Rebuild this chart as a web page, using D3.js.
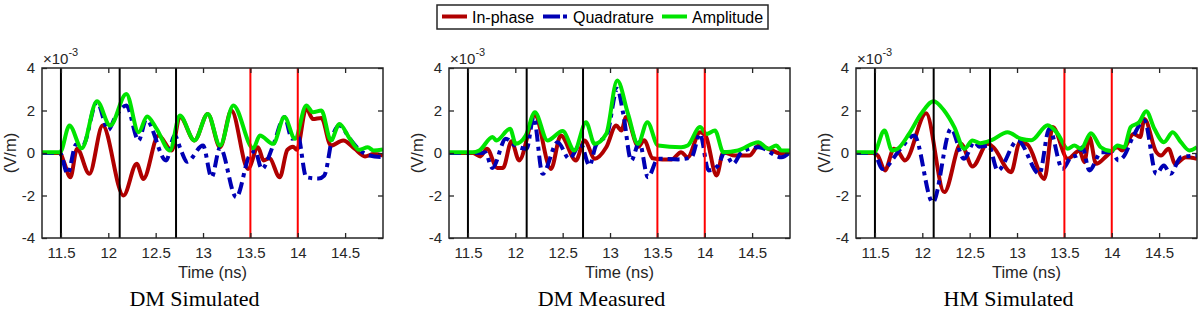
<!DOCTYPE html>
<html><head><meta charset="utf-8">
<script src="https://cdn.jsdelivr.net/npm/d3@7"></script>
<style>
html,body{margin:0;padding:0;background:#fff;}
svg{display:block;}
</style></head>
<body>
<svg id="chart" width="1200" height="314"></svg>
<script>
// ---------------- DATA ----------------
const panelTitles = ["DM Simulated", "DM Measured", "HM Simulated"];
const seriesNames = ["In-phase", "Quadrature", "Amplitude"];
const xTicks = [11.5, 12, 12.5, 13, 13.5, 14, 14.5];
const xTickLabels = ["11.5", "12", "12.5", "13", "13.5", "14", "14.5"];
const yTicks = [-4, -2, 0, 2, 4];
const yTickLabels = ["-4", "-2", "0", "2", "4"];
const xDomain = [11.3, 14.9];
const yDomain = [-4, 4];
const blackMarkers = [11.5, 12.12, 12.715];
const redMarkers = [13.5, 14.0];

// DM Simulated (values in 1e-3 V/m)
const dmSimInPhaseT = [11.30,11.49,11.53,11.60,11.67,11.80,11.94,12.16,12.30,12.37,12.53,12.67,12.755,12.91,13.05,13.18,13.30,13.475,13.58,13.64,13.70,13.81,13.89,13.95,13.99,14.09,14.16,14.25,14.35,14.48,14.60,14.71,14.80,14.90];
const dmSimInPhaseV = [0,0,-0.4,-1.14,0.2,-0.98,1.29,-2.0,-0.51,-1.22,0.82,0.12,1.72,0.59,1.84,0.27,2.0,-0.75,0.27,-0.35,-0.25,-1.14,0.15,0.3,0.15,2.1,1.6,1.65,0.35,0.59,0.2,-0.16,-0.05,-0.12];
const dmSimQuadT = [11.30,11.49,11.57,11.66,11.73,11.88,12.00,12.07,12.19,12.32,12.40,12.61,12.70,12.77,12.83,13.00,13.09,13.18,13.35,13.49,13.55,13.62,13.74,13.86,13.94,14.00,14.09,14.22,14.28,14.37,14.44,14.55,14.65,14.76,14.90];
const dmSimQuadV = [0,0,-0.98,0.4,0.35,2.4,1.09,1.65,2.24,0.59,1.56,-0.35,0.82,0.1,-0.41,0.35,-1.14,0.25,-2.08,-0.12,0.1,-0.75,0.35,1.69,0.67,0.82,-1.14,-1.2,-1.06,0.82,1.29,0.67,0.15,-0.12,-0.2];
const dmSimAmpT = [11.30,11.49,11.59,11.72,11.88,12.02,12.19,12.32,12.41,12.51,12.65,12.755,12.91,13.05,13.18,13.32,13.53,13.60,13.74,13.86,13.97,14.09,14.16,14.25,14.35,14.44,14.55,14.65,14.74,14.80,14.90];
const dmSimAmpV = [0.03,0.03,1.29,0.22,2.44,1.29,2.78,0.98,1.72,1.14,0.12,1.76,0.59,1.84,0.35,2.24,0.22,0.82,0.43,1.69,0.67,2.24,1.92,2.0,0.59,1.37,0.67,0.15,0.27,0.12,0.17];

// DM Measured
const dmMeasInPhaseT = [11.30,11.55,11.63,11.70,11.81,11.87,11.96,12.04,12.207,12.376,12.48,12.64,12.73,12.84,12.96,13.065,13.12,13.17,13.30,13.36,13.45,13.55,13.65,13.75,13.82,13.95,14.01,14.125,14.196,14.32,14.47,14.57,14.71,14.81,14.90];
const dmMeasInPhaseV = [0,0,-0.16,0.2,-0.7,-0.7,0.55,-0.35,1.76,-0.75,0.82,-0.35,0.59,-0.27,0.27,1.29,1.06,1.69,0.3,0.6,-0.25,-0.3,-0.3,0.04,-0.2,0.98,0.8,-1.06,0.04,-0.12,-0.12,0.35,0.12,-0.04,0.04];
const dmMeasQuadT = [11.30,11.65,11.68,11.758,11.90,12.00,12.12,12.193,12.288,12.447,12.57,12.69,12.783,12.85,12.97,13.076,13.14,13.224,13.31,13.40,13.507,13.72,13.86,13.95,14.04,14.14,14.21,14.30,14.39,14.57,14.81,14.90];
const dmMeasQuadV = [0,0,0.04,-0.7,0.67,0.35,0.2,1.69,-0.98,0.51,-0.27,0.43,-0.59,0.35,0.9,3.02,1.84,-0.35,0.51,-1.14,-0.27,-0.3,-0.2,0.9,-0.82,-0.59,0.04,-0.51,0.04,0.27,-0.2,0.04];
const dmMeasAmpT = [11.30,11.55,11.62,11.76,11.80,11.945,12.005,12.11,12.207,12.34,12.50,12.624,12.747,12.836,12.96,13.076,13.19,13.295,13.394,13.507,13.75,13.82,13.95,14.02,14.108,14.196,14.35,14.567,14.67,14.755,14.81,14.90];
const dmMeasAmpV = [0.03,0.03,0.12,0.75,0.59,1.14,0.43,0.82,1.92,0.59,1.03,0.12,1.45,0.43,0.9,3.41,1.84,0.43,1.45,0.35,0.27,0.35,1.22,0.9,1.06,0.04,0.12,0.51,0.2,0.35,0.12,0.12];

// HM Simulated
const hmSimInPhaseT = [11.30,11.49,11.53,11.606,11.70,11.75,11.817,12.04,12.232,12.408,12.53,12.69,12.75,12.937,13.03,13.11,13.289,13.377,13.535,13.66,13.71,13.764,13.835,13.95,14.06,14.11,14.23,14.30,14.345,14.47,14.52,14.60,14.67,14.78,14.90];
const hmSimInPhaseV = [0,0,-0.12,-0.82,0.2,0.04,-0.35,1.87,-1.84,0.43,-0.63,0.43,0.27,-0.9,0.51,0.4,-1.22,1.22,-0.27,0.12,-0.43,0.75,-0.51,-0.12,0.27,0.12,0.9,0.75,1.6,0.04,-0.12,0.2,-0.51,-0.2,-0.27];
const hmSimQuadT = [11.30,11.49,11.58,11.77,11.915,12.11,12.303,12.44,12.55,12.60,12.70,12.796,13.007,13.236,13.34,13.48,13.57,13.64,13.69,13.764,13.89,14.00,14.07,14.12,14.23,14.345,14.47,14.55,14.62,14.73,14.90];
const hmSimQuadV = [0,0,-0.75,0.2,0.82,-2.32,1.14,-0.27,0.51,0.3,0.35,-0.82,0.59,-0.98,1.14,-0.75,-0.2,-0.1,0.27,-0.82,0.04,0.04,-0.35,-0.2,0.82,1.53,-0.98,-0.59,-0.98,-0.2,-0.12];
const hmSimAmpT = [11.30,11.49,11.60,11.68,11.74,11.86,11.986,12.12,12.23,12.338,12.444,12.53,12.61,12.725,12.90,13.04,13.15,13.324,13.43,13.535,13.605,13.675,13.78,13.885,13.993,14.06,14.13,14.20,14.29,14.363,14.45,14.55,14.644,14.73,14.82,14.90];
const hmSimAmpV = [0.03,0.03,1.06,0.12,0.2,0.9,1.84,2.44,2.0,1.22,0.2,0.59,0.46,0.59,0.98,0.67,0.6,1.31,0.9,0.2,0.35,0.2,0.93,0.27,0.09,0.35,0.27,1.22,1.45,1.97,1.14,0.51,0.98,0.51,0.12,0.27];

// ---------------- BUILD ----------------
const panels = [
  {title: panelTitles[0], series: [[dmSimInPhaseT, dmSimInPhaseV],[dmSimQuadT, dmSimQuadV],[dmSimAmpT, dmSimAmpV]]},
  {title: panelTitles[1], series: [[dmMeasInPhaseT, dmMeasInPhaseV],[dmMeasQuadT, dmMeasQuadV],[dmMeasAmpT, dmMeasAmpV]]},
  {title: panelTitles[2], series: [[hmSimInPhaseT, hmSimInPhaseV],[hmSimQuadT, hmSimQuadV],[hmSimAmpT, hmSimAmpV]]}
];
const colors = ["#b00000", "#0000b4", "#00e400"];
const dashes = [null, "12,5,4,5", null];
const axisColor = "#262626";
const sansFont = "'Liberation Sans', Arial, Helvetica, sans-serif";
const serifFont = "'Liberation Serif', 'Times New Roman', serif";

const svg = d3.select("#chart");
const lefts = [42, 449, 856];
const plotW = 341, plotTop = 68, plotBottom = 238;

panels.forEach((p, i) => {
  const L = lefts[i];
  const x = d3.scaleLinear().domain(xDomain).range([L, L + plotW]);
  const y = d3.scaleLinear().domain(yDomain).range([plotBottom, plotTop]);
  const g = svg.append("g");
  const clipId = "clip" + i;
  svg.append("clipPath").attr("id", clipId).append("rect")
    .attr("x", L).attr("y", plotTop).attr("width", plotW).attr("height", plotBottom - plotTop);

  const line = d3.line().x(d => x(d[0])).y(d => y(d[1])).curve(d3.curveMonotoneX);
  const cg = g.append("g").attr("clip-path", `url(#${clipId})`);
  p.series.forEach((s, k) => {
    const pts = s[0].map((t, j) => [t, s[1][j]]);
    const path = cg.append("path").datum(pts).attr("d", line)
      .attr("fill", "none").attr("stroke", colors[k]).attr("stroke-width", 4)
      .attr("stroke-linejoin", "round");
    if (dashes[k]) path.attr("stroke-dasharray", dashes[k]);
  });
  // marker lines
  blackMarkers.forEach(t => cg.append("line").attr("x1", x(t)).attr("x2", x(t)).attr("y1", plotTop).attr("y2", plotBottom)
    .attr("stroke", "#000").attr("stroke-width", 2));
  redMarkers.forEach(t => cg.append("line").attr("x1", x(t)).attr("x2", x(t)).attr("y1", plotTop).attr("y2", plotBottom)
    .attr("stroke", "#ff0000").attr("stroke-width", 2));

  // axes
  const xb = d3.axisBottom(x).tickValues(xTicks).tickFormat((d, j) => xTickLabels[j]).tickSizeInner(-5).tickSizeOuter(0).tickPadding(9);
  const xt = d3.axisTop(x).tickValues(xTicks).tickFormat("").tickSizeInner(-5).tickSizeOuter(0);
  const yl = d3.axisLeft(y).tickValues(yTicks).tickFormat((d, j) => yTickLabels[j]).tickSizeInner(-5).tickSizeOuter(0).tickPadding(7);
  const yr = d3.axisRight(y).tickValues(yTicks).tickFormat("").tickSizeInner(-5).tickSizeOuter(0);
  const axs = [
    g.append("g").attr("transform", `translate(0,${plotBottom})`).call(xb),
    g.append("g").attr("transform", `translate(0,${plotTop})`).call(xt),
    g.append("g").attr("transform", `translate(${L},0)`).call(yl),
    g.append("g").attr("transform", `translate(${L + plotW},0)`).call(yr)
  ];
  axs.forEach(a => {
    a.select(".domain").remove();
    a.selectAll("line").attr("stroke", axisColor).attr("stroke-width", 1.3);
    a.selectAll("text").attr("fill", axisColor).style("font-family", sansFont).style("font-size", "15px");
  });
  g.append("rect").attr("x", L).attr("y", plotTop).attr("width", plotW).attr("height", plotBottom - plotTop)
    .attr("fill", "none").attr("stroke", axisColor).attr("stroke-width", 1.5);

  // exponent label
  const ex = g.append("text").attr("x", L + 1).attr("y", 63.5).attr("fill", axisColor)
    .style("font-family", sansFont).style("font-size", "15px");
  ex.append("tspan").text("×10");
  ex.append("tspan").attr("dy", -8).style("font-size", "11px").text("-3");

  // axis labels
  g.append("text").attr("x", L + plotW / 2).attr("y", 278).attr("text-anchor", "middle").attr("fill", axisColor)
    .style("font-family", sansFont).style("font-size", "16.5px").text("Time (ns)");
  g.append("text").attr("transform", `translate(${L - 26},${(plotTop + plotBottom) / 2}) rotate(-90)`)
    .attr("text-anchor", "middle").attr("fill", axisColor)
    .style("font-family", sansFont).style("font-size", "16.5px").text("(V/m)");
  // title
  g.append("text").attr("x", L + plotW / 2 - 18).attr("y", 306).attr("text-anchor", "middle").attr("fill", "#000")
    .style("font-family", serifFont).style("font-size", "22px").text(p.title);
});

// legend
const lg = svg.append("g");
lg.append("rect").attr("x", 437).attr("y", 5).attr("width", 331).attr("height", 24)
  .attr("fill", "#fff").attr("stroke", axisColor).attr("stroke-width", 1.5);
const legendX = [[442, 472], [543, 573], [662, 692]];
seriesNames.forEach((n, k) => {
  const ln = lg.append("line").attr("x1", legendX[k][0]).attr("x2", legendX[k][0] + 25).attr("y1", 16.5).attr("y2", 16.5)
    .attr("stroke", colors[k]).attr("stroke-width", 4);
  if (dashes[k]) ln.attr("stroke-dasharray", "17,3,4,3");
  lg.append("text").attr("x", legendX[k][1]).attr("y", 23).attr("fill", "#000")
    .style("font-family", sansFont).style("font-size", "16px").text(n);
});
</script>
</body></html>
